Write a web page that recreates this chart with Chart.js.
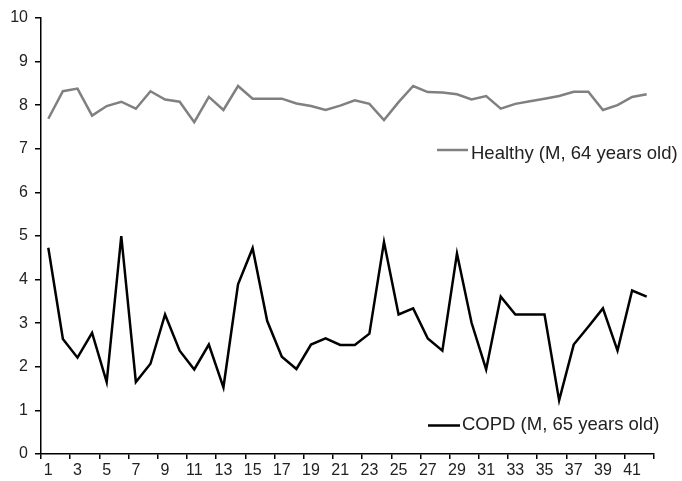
<!DOCTYPE html>
<html lang="en">
<head>
    <meta charset="UTF-8">
    <title>Healthy vs COPD</title>
    <script src="https://cdn.jsdelivr.net/npm/chart.js"></script>
    <style>
        body { margin: 0; background: #fff; }
        #wrap { width: 682px; height: 481px; }
    </style>
</head>
<body>
    <div id="wrap"><canvas id="lineChart"></canvas></div>

    <script>
// x categories 1..42
const categories = ["1","2","3","4","5","6","7","8","9","10","11","12","13","14","15","16","17","18","19","20","21",
                    "22","23","24","25","26","27","28","29","30","31","32","33","34","35","36","37","38","39","40","41","42"];

// Healthy (M, 64 years old)
const healthyValues = [7.69, 8.32, 8.38, 7.76, 7.98, 8.08, 7.92, 8.32, 8.13, 8.08, 7.61, 8.19, 7.89, 8.44,
                       8.15, 8.15, 8.15, 8.04, 7.98, 7.89, 7.99, 8.11, 8.03, 7.66, 8.07, 8.44, 8.30, 8.29,
                       8.25, 8.13, 8.21, 7.92, 8.03, 8.09, 8.15, 8.21, 8.31, 8.31, 7.89, 8.00, 8.19, 8.25];

// COPD (M, 65 years old)
const copdValues = [4.73, 2.64, 2.21, 2.78, 1.65, 5.00, 1.65, 2.07, 3.20, 2.37, 1.94, 2.51, 1.53, 3.89,
                    4.72, 3.05, 2.23, 1.95, 2.51, 2.65, 2.50, 2.50, 2.76, 4.86, 3.20, 3.34, 2.65, 2.37,
                    4.60, 3.01, 1.94, 3.61, 3.20, 3.20, 3.20, 1.23, 2.51, 2.92, 3.34, 2.37, 3.75, 3.61];

const seriesLabels = ["Healthy (M, 64 years old)", "COPD (M, 65 years old)"];
const yTicks = [0, 1, 2, 3, 4, 5, 6, 7, 8, 9, 10];

const FONT = '"Liberation Sans", Arial, sans-serif';

// draws the two in-plot series labels with their line samples
const seriesTags = {
  id: 'seriesTags',
  afterDraw(chart) {
      const ctx = chart.ctx;
      const tags = [
          { text: seriesLabels[0], color: '#808080', x0: 437, x1: 468, ly: 150, ty: 159, tx: 471 },
          { text: seriesLabels[1], color: '#000000', x0: 428, x1: 460, ly: 425.5, ty: 429.5, tx: 462 }
      ];
      ctx.save();
      tags.forEach(t => {
          ctx.strokeStyle = t.color;
          ctx.lineWidth = 2.5;
          ctx.beginPath();
          ctx.moveTo(t.x0, t.ly);
          ctx.lineTo(t.x1, t.ly);
          ctx.stroke();
          ctx.fillStyle = '#222';
          ctx.font = '18.5px ' + FONT;
          ctx.textBaseline = 'alphabetic';
          ctx.textAlign = 'left';
          ctx.fillText(t.text, t.tx, t.ty);
      });
      ctx.restore();
  }
};

new Chart(document.getElementById('lineChart'), {
  type: 'line',
  data: {
      labels: categories,
      datasets: [{
          label: seriesLabels[0],
          data: healthyValues,
          borderColor: '#808080',
          borderWidth: 2.5,
          pointRadius: 0,
          tension: 0
      }, {
          label: seriesLabels[1],
          data: copdValues,
          borderColor: '#000000',
          borderWidth: 2.5,
          pointRadius: 0,
          tension: 0
      }]
  },
  options: {
      responsive: true,
      maintainAspectRatio: false,
      animation: false,
      layout: { padding: { top: 18, right: 28, left: 0, bottom: 0 } },
      plugins: { legend: { display: false }, tooltip: { enabled: false } },
      scales: {
          x: {
              offset: true,
              grid: {
                  offset: true,
                  drawOnChartArea: false,
                  drawTicks: true,
                  tickLength: 5,
                  lineWidth: 1.5,
                  color: c => (c.type !== 'tick' || c.index % 2 === 0) ? '#000' : 'rgba(0,0,0,0)'
              },
              border: { color: '#000', width: 1.5 },
              ticks: {
                  autoSkip: false,
                  maxRotation: 0,
                  padding: 2,
                  color: '#222',
                  font: { family: FONT, size: 16 },
                  callback: (v, i) => i % 2 === 0 ? categories[i] : ''
              },
              afterFit: s => { s.height = 27; }
          },
          y: {
              min: 0,
              max: 10,
              afterBuildTicks: s => { s.ticks = yTicks.map(v => ({ value: v })); },
              grid: {
                  drawOnChartArea: false,
                  drawTicks: true,
                  tickLength: 6,
                  lineWidth: 1.5,
                  color: '#000'
              },
              border: { color: '#000', width: 1.5 },
              ticks: {
                  padding: 7,
                  color: '#222',
                  font: { family: FONT, size: 16 }
              },
              afterFit: s => { s.width = 41; }
          }
      }
  },
  plugins: [seriesTags]
});
    </script>
</body>
</html>
